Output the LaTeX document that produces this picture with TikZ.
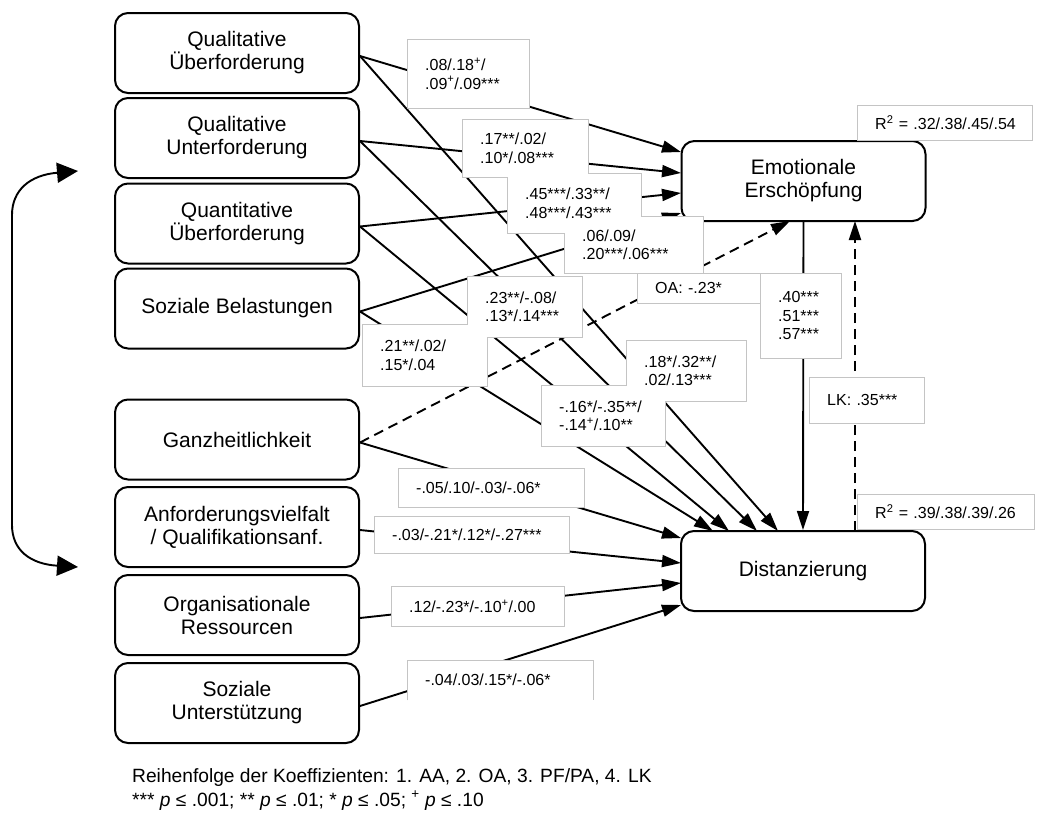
\documentclass[tikz,border=0pt]{standalone}
\usepackage{fontspec}
\setmainfont{Liberation Sans}
\usetikzlibrary{arrows.meta}
\definecolor{lblgray}{HTML}{C4C4C4}
\pgfdeclarelayer{lblline}
\pgfdeclarelayer{lblfill}
\pgfdeclarelayer{lbltext}
\pgfsetlayers{main,lblline,lblfill,lbltext}
\begin{document}
\begin{tikzpicture}[x=1pt,y=-1pt,
  var/.style={draw, line width=2pt, rounded corners=13pt, minimum width=244pt,
    minimum height=80pt, align=center, inner sep=0pt,
    font=\fontsize{21}{23}\selectfont},
  link/.style={line width=1.9pt, -{Triangle[length=19pt,width=12pt]}},
  dlink/.style={link, dash pattern=on 10pt off 6pt},
  coef/.style={anchor=north west, align=left, inner xsep=18pt, inner ysep=1pt,
    font=\fontsize{16}{18.5}\selectfont},
  coefline/.style={draw=lblgray, line width=0.9pt},
  legend/.style={anchor=base west, inner sep=0pt, font=\fontsize{19.2}{24}\selectfont},
]
\useasboundingbox (0,0) rectangle (1037,814);
\fill[white] (0,0) rectangle (1037,814);

% predictors
\node[var] (qu1) at (237,53)  {Qualitative\\Überforderung};
\node[var] (qu2) at (237,138) {Qualitative\\Unterforderung};
\node[var] (qn)  at (237,223.5) {Quantitative\\Überforderung};
\node[var] (sb)  at (237,308.5) {Soziale Belastungen};
\node[var] (gz)  at (237,439.5) {Ganzheitlichkeit};
\node[var] (av)  at (237,527) {Anforderungsvielfalt\\/ Qualifikationsanf.};
\node[var] (org) at (237,615) {Organisationale\\Ressourcen};
\node[var] (su)  at (237,703) {Soziale\\Unterstützung};

% outcomes
\node[var] (ee) at (803.5,181) {Emotionale\\Erschöpfung};
\node[var] (dz) at (803,571) {Distanzierung};

% docking points on the outcome boxes
\coordinate (ein1) at (681,152);
\coordinate (ein2) at (681,173);
\coordinate (ein3) at (681,193);
\coordinate (ein4) at (681,213);
\coordinate (dt1) at (778,531);
\coordinate (dt2) at (757,531);
\coordinate (dt3) at (729,531);
\coordinate (dt4) at (713,531);
\coordinate (dl1) at (681,538);
\coordinate (dl2) at (681,563);
\coordinate (dl3) at (681,583);
\coordinate (dl4) at (681,605);
\coordinate (edash) at (790,221);
\coordinate (dzr) at (855,531);
\coordinate (eer) at (855,221);
\coordinate (lt) at (78,171);
\coordinate (lb) at (78,567);

% correlation between the predictor groups
\draw[line width=1.9pt, {Triangle[length=21pt,width=20pt]}-{Triangle[length=21pt,width=20pt]}]
  (lt) .. controls (30,175) and (12,190) .. (12,215) -- (12,525)
  .. controls (12,550) and (30,564) .. (lb);

% paths to emotional exhaustion
\draw[link] ([yshift=-3pt]qu1.east) -- (ein1);
\draw[link] ([yshift=-3pt]qu2.east) -- (ein2);
\draw[link] ([yshift=-3pt]qn.east) -- (ein3);
\draw[link] ([yshift=-3pt]sb.east) -- (ein4);

% paths to distancing
\draw[link] ([yshift=-3pt]qu1.east) -- (dt1);
\draw[link] ([yshift=-3pt]qu2.east) -- (dt2);
\draw[link] ([yshift=-3pt]qn.east) -- (dt3);
\draw[link] ([yshift=-3pt]sb.east) -- (dt4);
\draw[link] ([yshift=-3pt]gz.east) -- (dl1);
\draw[link] ([yshift=-3pt]av.east) -- (dl2);
\draw[link] ([yshift=-3pt]org.east) -- (dl3);
\draw[link] ([yshift=-3pt]su.east) -- (dl4);

% group-specific paths (dashed) and the path between the outcomes
\draw[dlink] ([yshift=-3pt]gz.east) -- (edash);
\draw[link] (ee.south) -- (dz.north);
\draw[dlink] (dzr) -- (eer);

% coefficient texts (top layer); their frames are merged below
\begin{pgfonlayer}{lbltext}
\node[coef, text width=86pt,  minimum height=69pt] (c1) at (407,39) {.08/.18\textsuperscript{+}/\\.09\textsuperscript{+}/.09***};
\node[coef, text width=90pt,  minimum height=58pt] (c2) at (462,119) {.17**/.02/\\.10*/.08***};
\node[coef, text width=98pt,  minimum height=60pt] (c3) at (507,173) {.45***/.33**/\\.48***/.43***};
\node[coef, text width=103pt, minimum height=57pt] (c4) at (564,216) {.06/.09/\\.20***/.06***};
\node[coef, text width=87pt,  minimum height=30pt] (coa) at (637,273) {OA: -.23*};
\node[coef, text width=79pt,  minimum height=61pt] (c6) at (467,276) {.23**/-.08/\\.13*/.14***};
\node[coef, text width=89pt,  minimum height=62pt] (c7) at (362,324) {.21**/.02/\\.15*/.04};
\node[coef, text width=84pt,  minimum height=61pt] (c8) at (626,340) {.18*/.32**/\\.02/.13***};
\node[coef, text width=88pt,  minimum height=61pt] (c9) at (541,385) {-.16*/-.35**/\\-.14\textsuperscript{+}/.10**};
\node[coef, text width=150pt, minimum height=39pt] (c10) at (398,468) {-.05/.10/-.03/-.06*};
\node[coef, text width=159pt, minimum height=37pt] (c11) at (374,516) {-.03/-.21*/.12*/-.27***};
\node[coef, text width=137pt, minimum height=40pt] (c12) at (391,586) {.12/-.23*/-.10\textsuperscript{+}/.00};
\node[coef, text width=150pt, minimum height=40pt] (c13) at (407,660) {-.04/.03/.15*/-.06*};
\node[coef, text width=45pt,  minimum height=85pt] (cee) at (760,273) {.40***\\.51***\\.57***};
\node[coef, text width=79pt,  minimum height=46pt] (clk) at (809,377) {LK: .35***};
\node[coef, text width=139pt, minimum height=35pt] (r2ee) at (857,105) {R\textsuperscript{2}~=~.32/.38/.45/.54};
\node[coef, text width=141pt, minimum height=35pt] (r2dz) at (857,494) {R\textsuperscript{2}~=~.39/.38/.39/.26};
\end{pgfonlayer}

% frames of the coefficient boxes
\begin{pgfonlayer}{lblline}
\foreach \c in {c1,c2,c3,c4,coa,c6,c7,c8,c9,c10,c11,c12,cee,clk,r2ee,r2dz}
  \draw[coefline] (\c.south west) rectangle (\c.north east);
\draw[coefline] (c13.south west) |- (c13.north east) -- (c13.south east);
\end{pgfonlayer}

% white interiors, so that overlapping boxes merge into one outline
\begin{pgfonlayer}{lblfill}
\foreach \c in {c1,c2,c3,c4,coa,c6,c7,c8,c9,c10,c11,c12,c13,cee,clk,r2ee,r2dz}
  \fill[white] ([shift={(0.5pt,0.5pt)}]\c.south west) rectangle ([shift={(-0.5pt,-0.5pt)}]\c.north east);
\end{pgfonlayer}

% legend
\node[legend] (leg1) at (132,782) {Reihenfolge der Koeffizienten: 1. AA, 2. OA, 3. PF/PA, 4. LK};
\node[legend] (leg2) at (132,806) {*** \textit{p} ≤ .001; ** \textit{p} ≤ .01; * \textit{p} ≤ .05; \textsuperscript{+} \textit{p} ≤ .10};
\end{tikzpicture}
\end{document}
